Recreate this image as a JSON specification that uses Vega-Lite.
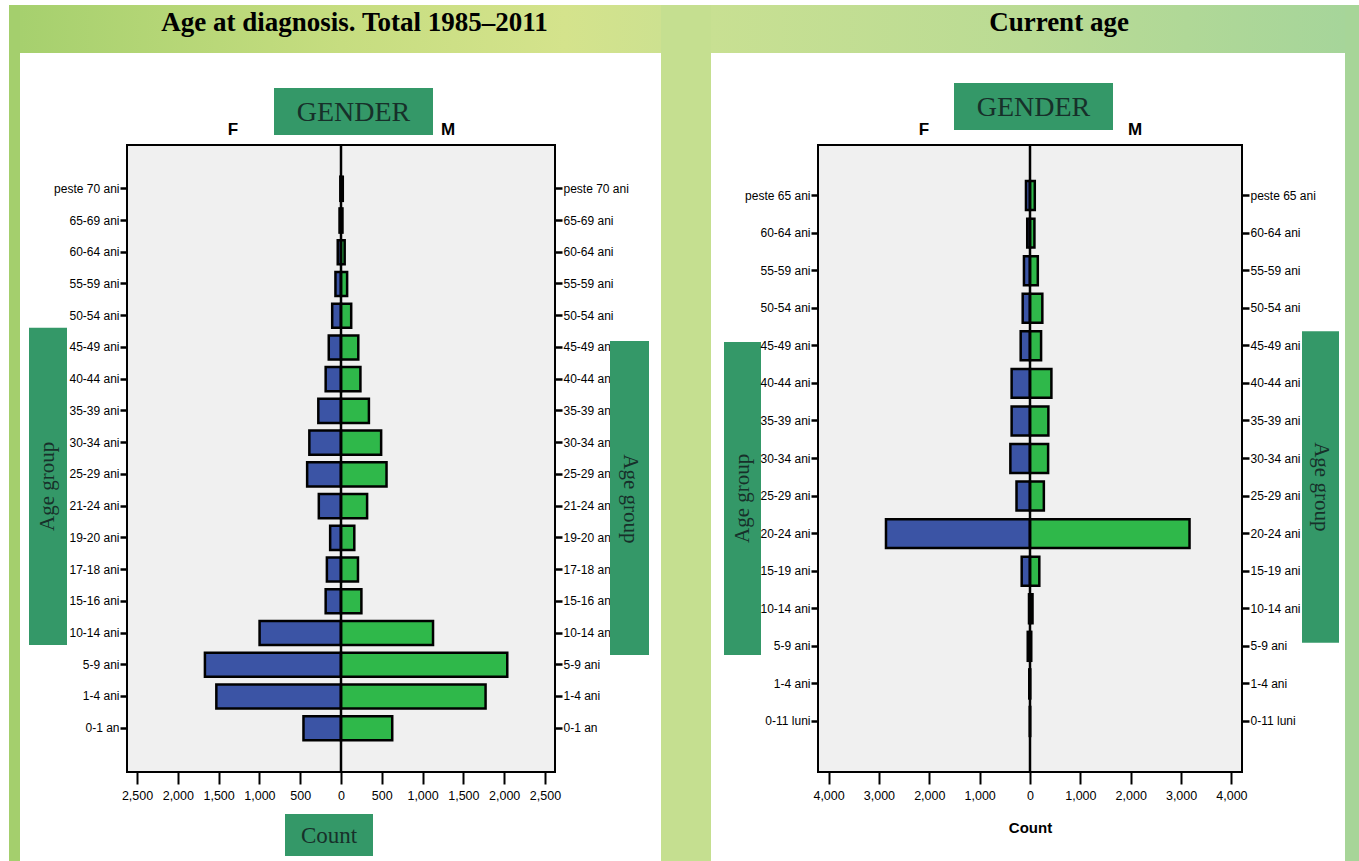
{
 "$schema": "https://vega.github.io/schema/vega-lite/v6.json",
 "background": "white",
 "padding": 0,
 "spacing": 0,
 "config": {"view": {"stroke": null}},
 "datasets": {
  "diag": [
   {"age": "peste 70 ani", "gender": "F", "count": 8}, {"age": "peste 70 ani", "gender": "M", "count": 22},
   {"age": "65-69 ani", "gender": "F", "count": 18}, {"age": "65-69 ani", "gender": "M", "count": 18},
   {"age": "60-64 ani", "gender": "F", "count": 40}, {"age": "60-64 ani", "gender": "M", "count": 45},
   {"age": "55-59 ani", "gender": "F", "count": 68}, {"age": "55-59 ani", "gender": "M", "count": 75},
   {"age": "50-54 ani", "gender": "F", "count": 108}, {"age": "50-54 ani", "gender": "M", "count": 125},
   {"age": "45-49 ani", "gender": "F", "count": 150}, {"age": "45-49 ani", "gender": "M", "count": 212},
   {"age": "40-44 ani", "gender": "F", "count": 188}, {"age": "40-44 ani", "gender": "M", "count": 238},
   {"age": "35-39 ani", "gender": "F", "count": 278}, {"age": "35-39 ani", "gender": "M", "count": 342},
   {"age": "30-34 ani", "gender": "F", "count": 388}, {"age": "30-34 ani", "gender": "M", "count": 492},
   {"age": "25-29 ani", "gender": "F", "count": 415}, {"age": "25-29 ani", "gender": "M", "count": 558},
   {"age": "21-24 ani", "gender": "F", "count": 272}, {"age": "21-24 ani", "gender": "M", "count": 320},
   {"age": "19-20 ani", "gender": "F", "count": 133}, {"age": "19-20 ani", "gender": "M", "count": 163},
   {"age": "17-18 ani", "gender": "F", "count": 173}, {"age": "17-18 ani", "gender": "M", "count": 208},
   {"age": "15-16 ani", "gender": "F", "count": 188}, {"age": "15-16 ani", "gender": "M", "count": 250},
   {"age": "10-14 ani", "gender": "F", "count": 998}, {"age": "10-14 ani", "gender": "M", "count": 1128},
   {"age": "5-9 ani", "gender": "F", "count": 1668}, {"age": "5-9 ani", "gender": "M", "count": 2038},
   {"age": "1-4 ani", "gender": "F", "count": 1528}, {"age": "1-4 ani", "gender": "M", "count": 1772},
   {"age": "0-1 an", "gender": "F", "count": 460}, {"age": "0-1 an", "gender": "M", "count": 628}
  ],
  "current": [
   {"age": "peste 65 ani", "gender": "F", "count": 80}, {"age": "peste 65 ani", "gender": "M", "count": 95},
   {"age": "60-64 ani", "gender": "F", "count": 55}, {"age": "60-64 ani", "gender": "M", "count": 88},
   {"age": "55-59 ani", "gender": "F", "count": 120}, {"age": "55-59 ani", "gender": "M", "count": 155},
   {"age": "50-54 ani", "gender": "F", "count": 145}, {"age": "50-54 ani", "gender": "M", "count": 245},
   {"age": "45-49 ani", "gender": "F", "count": 185}, {"age": "45-49 ani", "gender": "M", "count": 220},
   {"age": "40-44 ani", "gender": "F", "count": 365}, {"age": "40-44 ani", "gender": "M", "count": 425},
   {"age": "35-39 ani", "gender": "F", "count": 365}, {"age": "35-39 ani", "gender": "M", "count": 365},
   {"age": "30-34 ani", "gender": "F", "count": 390}, {"age": "30-34 ani", "gender": "M", "count": 360},
   {"age": "25-29 ani", "gender": "F", "count": 268}, {"age": "25-29 ani", "gender": "M", "count": 275},
   {"age": "20-24 ani", "gender": "F", "count": 2860}, {"age": "20-24 ani", "gender": "M", "count": 3168},
   {"age": "15-19 ani", "gender": "F", "count": 165}, {"age": "15-19 ani", "gender": "M", "count": 185},
   {"age": "10-14 ani", "gender": "F", "count": 20}, {"age": "10-14 ani", "gender": "M", "count": 50},
   {"age": "5-9 ani", "gender": "F", "count": 45}, {"age": "5-9 ani", "gender": "M", "count": 25},
   {"age": "1-4 ani", "gender": "F", "count": 15}, {"age": "1-4 ani", "gender": "M", "count": 3},
   {"age": "0-11 luni", "gender": "F", "count": 2}, {"age": "0-11 luni", "gender": "M", "count": 1}
  ]
 },
 "hconcat": [
  {"width": 9, "height": 861, "data": {"values": [{}]}, "mark": {"type": "rect", "opacity": 0}, "encoding": {}},
  {"spacing": 0, "vconcat": [
   {"width": 11, "height": 5, "data": {"values": [{}]}, "mark": {"type": "rect", "opacity": 0}, "encoding": {}},
   {"width": 11, "height": 856, "data": {"values": [{}]}, "mark": {"type": "rect", "color": "#a4cf6d"}, "encoding": {}}
  ]},
  {
   "spacing": 0,
   "vconcat": [
    {"width": 1, "height": 5, "data": {"values": [{}]}, "mark": {"type": "rect", "opacity": 0}, "encoding": {}},
    {"width": 641, "height": 48, "data": {"values": [{}]},
     "layer": [
      {"mark": {"type": "rect", "color": {"gradient": "linear", "x1": 0, "y1": 0, "x2": 1, "y2": 0, "stops": [{"offset": 0, "color": "#a6d06e"}, {"offset": 0.5, "color": "#c6dd80"}, {"offset": 0.85, "color": "#d4e38c"}, {"offset": 1, "color": "#cde190"}]}}, "encoding": {}},
      {"mark": {"type": "text", "text": "Age at diagnosis. Total 1985–2011", "font": "Liberation Serif", "fontSize": 27, "fontWeight": "bold", "color": "black", "align": "center", "baseline": "middle", "dx": 14, "dy": -6.5}, "encoding": {}}
     ]},
    {"width": 1, "height": 35, "data": {"values": [{}]}, "mark": {"type": "rect", "opacity": 0}, "encoding": {}},
    {"spacing": 0, "bounds": "flush",
     "hconcat": [
      {"width": 193, "height": 1, "data": {"values": [{}]}, "mark": {"type": "rect", "opacity": 0}, "encoding": {}},
      {"width": 40, "height": 54, "data": {"values": [{}]}, "mark": {"type": "text", "text": "F", "font": "Liberation Sans", "fontWeight": "bold", "fontSize": 17, "color": "black", "align": "center", "baseline": "middle", "dy": 15}, "encoding": {}},
      {"width": 21, "height": 1, "data": {"values": [{}]}, "mark": {"type": "rect", "opacity": 0}, "encoding": {}},
      {"width": 159, "height": 47, "view": {"fill": "#349868", "stroke": null}, "data": {"values": [{}]}, "mark": {"type": "text", "text": "GENDER", "font": "Liberation Serif", "fontSize": 28, "color": "#17302a", "align": "center", "baseline": "middle", "dy": 1}, "encoding": {}},
      {"width": 1, "height": 1, "data": {"values": [{}]}, "mark": {"type": "rect", "opacity": 0}, "encoding": {}},
      {"width": 28, "height": 54, "data": {"values": [{}]}, "mark": {"type": "text", "text": "M", "font": "Liberation Sans", "fontWeight": "bold", "fontSize": 17, "color": "black", "align": "center", "baseline": "middle", "dy": 15}, "encoding": {}}
     ]},
    {"spacing": 0, "bounds": "flush",
     "hconcat": [
      {"width": 9, "height": 627, "data": {"values": [{}]}, "mark": {"type": "rect", "opacity": 0}, "encoding": {}},
      {"width": 38, "height": 627, "data": {"values": [{}]},
       "layer": [
        {"mark": {"type": "rect", "color": "#349868"},
         "encoding": {"y": {"datum": "50-54 ani", "type": "nominal", "bandPosition": 1, "scale": {"domain": ["peste 70 ani","65-69 ani","60-64 ani","55-59 ani","50-54 ani","45-49 ani","40-44 ani","35-39 ani","30-34 ani","25-29 ani","21-24 ani","19-20 ani","17-18 ani","15-16 ani","10-14 ani","5-9 ani","1-4 ani","0-1 an"], "paddingInner": 0.24, "paddingOuter": 1.12}, "axis": null},
                      "y2": {"datum": "10-14 ani", "bandPosition": 1}}},
        {"mark": {"type": "text", "text": "Age group", "angle": 270, "font": "Liberation Serif", "fontSize": 21, "color": "#17302a", "align": "center", "baseline": "middle"},
         "encoding": {"y": {"datum": "25-29 ani", "type": "nominal", "bandPosition": 1, "scale": {"domain": ["peste 70 ani","65-69 ani","60-64 ani","55-59 ani","50-54 ani","45-49 ani","40-44 ani","35-39 ani","30-34 ani","25-29 ani","21-24 ani","19-20 ani","17-18 ani","15-16 ani","10-14 ani","5-9 ani","1-4 ani","0-1 an"], "paddingInner": 0.24, "paddingOuter": 1.12}, "axis": null}}}
       ]},
      {"width": 60, "height": 627, "data": {"values": [{}]}, "mark": {"type": "rect", "opacity": 0}, "encoding": {}},
      {"width": 428, "height": 627,
       "view": {"fill": "#f0f0f0", "stroke": "black", "strokeWidth": 2},
       "layer": [
        {"data": {"name": "diag"}, "transform": [{"filter": "datum.gender === 'F'"}],
         "mark": {"type": "bar", "fill": "#3b54a5", "stroke": "black", "strokeWidth": 2.5},
         "encoding": {
          "y": {"field": "age", "type": "nominal", "scale": {"domain": ["peste 70 ani","65-69 ani","60-64 ani","55-59 ani","50-54 ani","45-49 ani","40-44 ani","35-39 ani","30-34 ani","25-29 ani","21-24 ani","19-20 ani","17-18 ani","15-16 ani","10-14 ani","5-9 ani","1-4 ani","0-1 an"], "paddingInner": 0.24, "paddingOuter": 1.12},
                "axis": {"orient": "left", "title": null, "domain": false, "grid": false, "tickSize": 7, "tickWidth": 2.5, "tickColor": "black", "labelColor": "black", "labelFont": "Liberation Sans", "labelFontSize": 12, "labelPadding": 1}},
          "x": {"field": "count", "type": "quantitative", "scale": {"domain": [-2623, 2623], "reverse": true, "nice": false}, "axis": null}
         }},
        {"data": {"name": "diag"}, "transform": [{"filter": "datum.gender === 'M'"}],
         "mark": {"type": "bar", "fill": "#2fb84a", "stroke": "black", "strokeWidth": 2.5},
         "encoding": {
          "y": {"field": "age", "type": "nominal", "scale": {"domain": ["peste 70 ani","65-69 ani","60-64 ani","55-59 ani","50-54 ani","45-49 ani","40-44 ani","35-39 ani","30-34 ani","25-29 ani","21-24 ani","19-20 ani","17-18 ani","15-16 ani","10-14 ani","5-9 ani","1-4 ani","0-1 an"], "paddingInner": 0.24, "paddingOuter": 1.12},
                "axis": {"orient": "right", "title": null, "domain": false, "grid": false, "tickSize": 7, "tickWidth": 2.5, "tickColor": "black", "labelColor": "black", "labelFont": "Liberation Sans", "labelFontSize": 12, "labelPadding": 1}},
          "x": {"field": "count", "type": "quantitative", "scale": {"domain": [-2623, 2623], "nice": false},
                "axis": {"orient": "bottom", "values": [-2500, -2000, -1500, -1000, -500, 0, 500, 1000, 1500, 2000, 2500], "labelExpr": "format(abs(datum.value), ',')", "title": null, "domain": false, "grid": false, "tickSize": 12, "tickWidth": 2, "tickColor": "black", "labelColor": "black", "labelFont": "Liberation Sans", "labelFontSize": 12.5, "labelPadding": 5, "labelFlush": false, "labelOverlap": false}}
         }},
        {"data": {"values": [{}]}, "mark": {"type": "rule", "color": "black", "strokeWidth": 2.5},
         "encoding": {"x": {"datum": 0, "type": "quantitative", "scale": {"domain": [-2623, 2623], "nice": false}, "axis": null}}}
       ],
       "resolve": {"scale": {"x": "independent"}, "axis": {"y": "independent", "x": "independent"}}
      },
      {"width": 55, "height": 627, "data": {"values": [{}]}, "mark": {"type": "rect", "opacity": 0}, "encoding": {}},
      {"width": 39, "height": 627, "data": {"values": [{}]},
       "layer": [
        {"mark": {"type": "rect", "color": "#349868"},
         "encoding": {"y": {"datum": "45-49 ani", "type": "nominal", "bandPosition": 0.23, "scale": {"domain": ["peste 70 ani","65-69 ani","60-64 ani","55-59 ani","50-54 ani","45-49 ani","40-44 ani","35-39 ani","30-34 ani","25-29 ani","21-24 ani","19-20 ani","17-18 ani","15-16 ani","10-14 ani","5-9 ani","1-4 ani","0-1 an"], "paddingInner": 0.24, "paddingOuter": 1.12}, "axis": null},
                      "y2": {"datum": "5-9 ani", "bandPosition": 0.1}}},
        {"mark": {"type": "text", "text": "Age group", "angle": 90, "font": "Liberation Serif", "fontSize": 21, "color": "#17302a", "align": "center", "baseline": "middle"},
         "encoding": {"y": {"datum": "21-24 ani", "type": "nominal", "bandPosition": 0.2, "scale": {"domain": ["peste 70 ani","65-69 ani","60-64 ani","55-59 ani","50-54 ani","45-49 ani","40-44 ani","35-39 ani","30-34 ani","25-29 ani","21-24 ani","19-20 ani","17-18 ani","15-16 ani","10-14 ani","5-9 ani","1-4 ani","0-1 an"], "paddingInner": 0.24, "paddingOuter": 1.12}, "axis": null}}}
       ]}
     ]},
    {"width": 1, "height": 11, "data": {"values": [{}]}, "mark": {"type": "rect", "opacity": 0}, "encoding": {}},
    {"spacing": 0, "bounds": "flush",
     "hconcat": [
      {"width": 265, "height": 42, "data": {"values": [{}]}, "mark": {"type": "rect", "opacity": 0}, "encoding": {}},
      {"width": 88, "height": 42, "view": {"fill": "#349868", "stroke": null}, "data": {"values": [{}]}, "mark": {"type": "text", "text": "Count", "font": "Liberation Serif", "fontSize": 23, "color": "#17302a", "align": "center", "baseline": "middle", "dy": 1}, "encoding": {}}
     ]}
   ]
  },
  {"spacing": 0, "vconcat": [
   {"width": 50, "height": 5, "data": {"values": [{}]}, "mark": {"type": "rect", "opacity": 0}, "encoding": {}},
   {"width": 50, "height": 856, "data": {"values": [{}]}, "mark": {"type": "rect", "color": "#c5df90"}, "encoding": {}}
  ]},
  {
   "spacing": 0,
   "vconcat": [
    {"width": 1, "height": 5, "data": {"values": [{}]}, "mark": {"type": "rect", "opacity": 0}, "encoding": {}},
    {"width": 634, "height": 48, "data": {"values": [{}]},
     "layer": [
      {"mark": {"type": "rect", "color": {"gradient": "linear", "x1": 0, "y1": 0, "x2": 1, "y2": 0, "stops": [{"offset": 0, "color": "#c8e092"}, {"offset": 0.5, "color": "#badb94"}, {"offset": 1, "color": "#a6d59a"}]}}, "encoding": {}},
      {"mark": {"type": "text", "text": "Current age", "font": "Liberation Serif", "fontSize": 27, "fontWeight": "bold", "color": "black", "align": "center", "baseline": "middle", "dx": 31, "dy": -6.5}, "encoding": {}}
     ]},
    {"width": 1, "height": 30, "data": {"values": [{}]}, "mark": {"type": "rect", "opacity": 0}, "encoding": {}},
    {"spacing": 0, "bounds": "flush",
     "hconcat": [
      {"width": 193, "height": 1, "data": {"values": [{}]}, "mark": {"type": "rect", "opacity": 0}, "encoding": {}},
      {"width": 40, "height": 59, "data": {"values": [{}]}, "mark": {"type": "text", "text": "F", "font": "Liberation Sans", "fontWeight": "bold", "fontSize": 17, "color": "black", "align": "center", "baseline": "middle", "dy": 17.5}, "encoding": {}},
      {"width": 10, "height": 1, "data": {"values": [{}]}, "mark": {"type": "rect", "opacity": 0}, "encoding": {}},
      {"width": 159, "height": 47, "view": {"fill": "#349868", "stroke": null}, "data": {"values": [{}]}, "mark": {"type": "text", "text": "GENDER", "font": "Liberation Serif", "fontSize": 28, "color": "#17302a", "align": "center", "baseline": "middle", "dy": 1}, "encoding": {}},
      {"width": 8, "height": 1, "data": {"values": [{}]}, "mark": {"type": "rect", "opacity": 0}, "encoding": {}},
      {"width": 28, "height": 59, "data": {"values": [{}]}, "mark": {"type": "text", "text": "M", "font": "Liberation Sans", "fontWeight": "bold", "fontSize": 17, "color": "black", "align": "center", "baseline": "middle", "dy": 17.5}, "encoding": {}}
     ]},
    {"spacing": 0, "bounds": "flush",
     "hconcat": [
      {"width": 13, "height": 627, "data": {"values": [{}]}, "mark": {"type": "rect", "opacity": 0}, "encoding": {}},
      {"width": 37, "height": 627, "data": {"values": [{}]},
       "layer": [
        {"mark": {"type": "rect", "color": "#349868"},
         "encoding": {"y": {"datum": "45-49 ani", "type": "nominal", "bandPosition": 0.37, "scale": {"domain": ["peste 65 ani","60-64 ani","55-59 ani","50-54 ani","45-49 ani","40-44 ani","35-39 ani","30-34 ani","25-29 ani","20-24 ani","15-19 ani","10-14 ani","5-9 ani","1-4 ani","0-11 luni"], "paddingInner": 0.23, "paddingOuter": 0.96}, "axis": null},
                      "y2": {"datum": "5-9 ani", "bandPosition": 0.8}}},
        {"mark": {"type": "text", "text": "Age group", "angle": 270, "font": "Liberation Serif", "fontSize": 21, "color": "#17302a", "align": "center", "baseline": "middle"},
         "encoding": {"y": {"datum": "25-29 ani", "type": "nominal", "bandPosition": 0.58, "scale": {"domain": ["peste 65 ani","60-64 ani","55-59 ani","50-54 ani","45-49 ani","40-44 ani","35-39 ani","30-34 ani","25-29 ani","20-24 ani","15-19 ani","10-14 ani","5-9 ani","1-4 ani","0-11 luni"], "paddingInner": 0.23, "paddingOuter": 0.96}, "axis": null}}}
       ]},
      {"width": 57, "height": 627, "data": {"values": [{}]}, "mark": {"type": "rect", "opacity": 0}, "encoding": {}},
      {"width": 424, "height": 627,
       "view": {"fill": "#f0f0f0", "stroke": "black", "strokeWidth": 2},
       "layer": [
        {"data": {"name": "current"}, "transform": [{"filter": "datum.gender === 'F'"}],
         "mark": {"type": "bar", "fill": "#3b54a5", "stroke": "black", "strokeWidth": 2.5},
         "encoding": {
          "y": {"field": "age", "type": "nominal", "scale": {"domain": ["peste 65 ani","60-64 ani","55-59 ani","50-54 ani","45-49 ani","40-44 ani","35-39 ani","30-34 ani","25-29 ani","20-24 ani","15-19 ani","10-14 ani","5-9 ani","1-4 ani","0-11 luni"], "paddingInner": 0.23, "paddingOuter": 0.96},
                "axis": {"orient": "left", "title": null, "domain": false, "grid": false, "tickSize": 7, "tickWidth": 2.5, "tickColor": "black", "labelColor": "black", "labelFont": "Liberation Sans", "labelFontSize": 12, "labelPadding": 1}},
          "x": {"field": "count", "type": "quantitative", "scale": {"domain": [-4210, 4210], "reverse": true, "nice": false}, "axis": null}
         }},
        {"data": {"name": "current"}, "transform": [{"filter": "datum.gender === 'M'"}],
         "mark": {"type": "bar", "fill": "#2fb84a", "stroke": "black", "strokeWidth": 2.5},
         "encoding": {
          "y": {"field": "age", "type": "nominal", "scale": {"domain": ["peste 65 ani","60-64 ani","55-59 ani","50-54 ani","45-49 ani","40-44 ani","35-39 ani","30-34 ani","25-29 ani","20-24 ani","15-19 ani","10-14 ani","5-9 ani","1-4 ani","0-11 luni"], "paddingInner": 0.23, "paddingOuter": 0.96},
                "axis": {"orient": "right", "title": null, "domain": false, "grid": false, "tickSize": 7, "tickWidth": 2.5, "tickColor": "black", "labelColor": "black", "labelFont": "Liberation Sans", "labelFontSize": 12, "labelPadding": 1}},
          "x": {"field": "count", "type": "quantitative", "scale": {"domain": [-4210, 4210], "nice": false},
                "axis": {"orient": "bottom", "values": [-4000, -3000, -2000, -1000, 0, 1000, 2000, 3000, 4000], "labelExpr": "format(abs(datum.value), ',')", "title": "Count", "titleFont": "Liberation Sans", "titleFontWeight": "bold", "titleFontSize": 15, "titleColor": "black", "titlePadding": 19, "domain": false, "grid": false, "tickSize": 12, "tickWidth": 2, "tickColor": "black", "labelColor": "black", "labelFont": "Liberation Sans", "labelFontSize": 12.5, "labelPadding": 5, "labelFlush": false, "labelOverlap": false}}
         }},
        {"data": {"values": [{}]}, "mark": {"type": "rule", "color": "black", "strokeWidth": 2.5},
         "encoding": {"x": {"datum": 0, "type": "quantitative", "scale": {"domain": [-4210, 4210], "nice": false}, "axis": null}}}
       ],
       "resolve": {"scale": {"x": "independent"}, "axis": {"y": "independent", "x": "independent"}}
      },
      {"width": 60, "height": 627, "data": {"values": [{}]}, "mark": {"type": "rect", "opacity": 0}, "encoding": {}},
      {"width": 37, "height": 627, "data": {"values": [{}]},
       "layer": [
        {"mark": {"type": "rect", "color": "#349868"},
         "encoding": {"y": {"datum": "45-49 ani", "type": "nominal", "bandPosition": 0, "scale": {"domain": ["peste 65 ani","60-64 ani","55-59 ani","50-54 ani","45-49 ani","40-44 ani","35-39 ani","30-34 ani","25-29 ani","20-24 ani","15-19 ani","10-14 ani","5-9 ani","1-4 ani","0-11 luni"], "paddingInner": 0.23, "paddingOuter": 0.96}, "axis": null},
                      "y2": {"datum": "5-9 ani", "bandPosition": 0.38}}},
        {"mark": {"type": "text", "text": "Age group", "angle": 90, "font": "Liberation Serif", "fontSize": 21, "color": "#17302a", "align": "center", "baseline": "middle"},
         "encoding": {"y": {"datum": "25-29 ani", "type": "nominal", "bandPosition": 0.18, "scale": {"domain": ["peste 65 ani","60-64 ani","55-59 ani","50-54 ani","45-49 ani","40-44 ani","35-39 ani","30-34 ani","25-29 ani","20-24 ani","15-19 ani","10-14 ani","5-9 ani","1-4 ani","0-11 luni"], "paddingInner": 0.23, "paddingOuter": 0.96}, "axis": null}}}
       ]}
     ]}
   ]
  },
  {"spacing": 0, "vconcat": [
   {"width": 14, "height": 5, "data": {"values": [{}]}, "mark": {"type": "rect", "opacity": 0}, "encoding": {}},
   {"width": 14, "height": 856, "data": {"values": [{}]}, "mark": {"type": "rect", "color": "#a7d598"}, "encoding": {}}
  ]}
 ]
}
